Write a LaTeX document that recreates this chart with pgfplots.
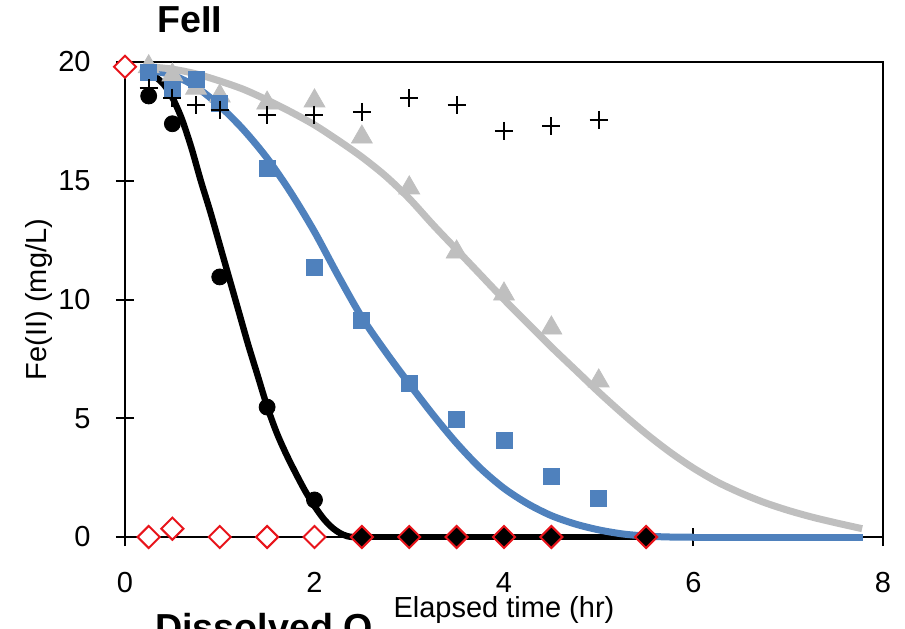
\documentclass[border=0pt]{standalone}
\usepackage{pgfplots}
\pgfplotsset{compat=1.18}
\usepackage{fontspec}
\setmainfont{Liberation Sans}

\definecolor{fitblue}{HTML}{4F81BD}
\definecolor{fitgray}{HTML}{BFBFBF}
\definecolor{dored}{HTML}{E8141B}

\begin{document}
\begin{tikzpicture}
\useasboundingbox (-62.5pt,-45.5pt) rectangle (390pt,268.5pt);
\begin{axis}[
  at={(0,0)}, anchor=south west,
  scale only axis, width=379pt, height=237.5pt,
  xmin=0, xmax=8, ymin=0, ymax=20,
  xtick={0,2,4,6,8}, ytick={0,5,10,15,20},
  xtick pos=left, ytick pos=left,
  tick align=center, major tick length=9pt,
  every tick/.style={black, line width=1pt},
  axis line style={line width=1pt},
  /pgf/number format/assume math mode=true,
  ticklabel style={font=\fontsize{14.5}{17}\selectfont, inner sep=0pt},
  xticklabel style={anchor=base, yshift=-23pt},
  yticklabel style={anchor=east, xshift=-12.5pt},
  label style={font=\fontsize{14.5}{17}\selectfont},
  xlabel={Elapsed time (hr)},
  xlabel style={at={(axis description cs:0.5,0)}, anchor=base, yshift=-40pt},
  ylabel={Fe(II) (mg/L)},
  ylabel style={at={(axis description cs:-0.1135,0.5)}, anchor=center, rotate=0},
  clip=false,
]
% fitted curves
\addplot[black, line width=3.2pt, no marks, smooth] coordinates {
  (0.25,19.6) (0.4,19.1) (0.5,18.5) (0.6,17.6) (0.7,16.4) (0.8,15.0)
  (0.9,13.7) (1.0,12.3) (1.1,10.9) (1.2,9.5) (1.3,8.1) (1.4,6.8)
  (1.5,5.5) (1.6,4.4) (1.7,3.5) (1.8,2.7) (1.9,1.95) (2.0,1.3)
  (2.1,0.75) (2.2,0.35) (2.3,0.1) (2.4,0.0) (2.6,0.0)};
\addplot[black, line width=3.2pt, no marks] coordinates {(2.6,0) (5.5,0)};
\addplot[fitblue, line width=3.5pt, no marks, smooth] coordinates {
  (0.25,19.65) (0.5,19.45) (0.75,18.95) (1.0,18.15) (1.25,17.15) (1.5,15.95)
  (1.75,14.5) (2.0,12.85) (2.25,11.0) (2.5,9.25) (2.75,7.8) (3.0,6.45)
  (3.25,5.15) (3.5,3.95) (3.75,2.9) (4.0,2.05) (4.25,1.4) (4.5,0.9)
  (4.75,0.55) (5.0,0.3) (5.25,0.13) (5.5,0.04) (5.75,0.0) (6.0,0.0)};
\addplot[fitblue, line width=3.5pt, no marks] coordinates {(6.0,0) (7.79,0)};
\addplot[fitgray, line width=3.5pt, no marks, smooth] coordinates {
  (0.25,19.8) (0.5,19.7) (0.75,19.5) (1.0,19.2) (1.25,18.85) (1.5,18.4)
  (1.75,17.9) (2.0,17.35) (2.25,16.7) (2.5,16.0) (2.75,15.2) (3.0,14.25)
  (3.25,13.15) (3.5,12.1) (3.75,11.05) (4.0,10.0) (4.25,9.0) (4.5,8.0)
  (4.75,7.05) (5.0,6.1) (5.25,5.2) (5.5,4.35) (5.75,3.58) (6.0,2.9)
  (6.25,2.32) (6.5,1.85) (6.75,1.45) (7.0,1.12) (7.25,0.84) (7.5,0.6) (7.78,0.35)};
% measured concentrations
\addplot[only marks, mark=triangle*, mark size=6pt, fitgray] coordinates {
  (0.25,19.8) (0.5,19.45) (0.75,18.9) (1.0,18.57) (1.5,18.27) (2.0,18.36)
  (2.5,16.84) (3.0,14.7) (3.5,12.0) (4.0,10.23) (4.5,8.8) (5.0,6.57)};
\addplot[only marks, mark=square*, mark size=4pt, fitblue] coordinates {
  (0.25,19.55) (0.5,18.85) (0.75,19.25) (1.0,18.25) (1.5,15.5) (2.0,11.37)
  (2.5,9.1) (3.0,6.48) (3.5,4.97) (4.0,4.08) (4.5,2.57) (5.0,1.64)};
\addplot[only marks, mark=*, mark size=4pt, black] coordinates {
  (0.25,18.57) (0.5,17.4) (1.0,10.95) (1.5,5.47) (2.0,1.56)};
\addplot[only marks, mark=+, mark size=4.5pt, black, mark options={line width=1pt}] coordinates {
  (0,19.75) (0.25,18.9) (0.5,18.5) (0.75,18.2) (1.0,18.0) (1.5,17.77)
  (2.0,17.77) (2.5,17.9) (3.0,18.48) (3.5,18.2) (4.0,17.1) (4.5,17.3) (5.0,17.56)};
\addplot[only marks, mark=square*, mark size=3.9pt,
  mark options={rotate=45, draw=dored, fill=white, line width=1pt}] coordinates {
  (0,19.8) (0.25,0) (0.5,0.35) (1.0,0) (1.5,0) (2.0,0)};
\addplot[only marks, mark=square*, mark size=3.9pt,
  mark options={rotate=45, draw=dored, fill=black, line width=1pt}] coordinates {
  (2.5,0) (3.0,0) (3.5,0) (4.0,0) (4.5,0) (5.5,0)};
\end{axis}
\node[anchor=base west, inner sep=0pt, font=\fontsize{18.8}{22}\selectfont\bfseries] at (16pt,252pt) {FeII};
\node[anchor=base west, inner sep=0pt, font=\fontsize{18.8}{22}\selectfont\bfseries] at (15pt,-51.5pt) {Dissolved O};
\end{tikzpicture}
\end{document}
